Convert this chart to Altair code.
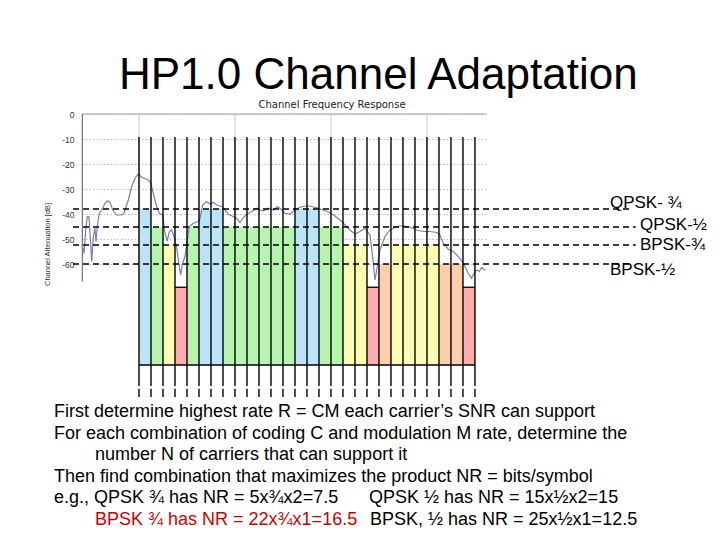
import altair as alt
import pandas as pd

# ---------------- data ----------------
# channel frequency response (x in carrier units, y in dB)
curve_u = [-4.75, -4.58, -4.44, -4.31, -4.17, -4.03, -3.94, -3.81, -3.67, -3.58, -3.48, -3.31, -3.11,
           -2.83, -2.64, -2.42, -2.19, -1.86, -1.44, -1.25, -0.89, -0.61, -0.33, -0.06, 0.22, 0.78,
           0.97, 1.19, 1.47, 1.69, 1.97, 2.17, 2.36, 2.53, 2.72, 2.92, 3.14, 3.28, 3.47, 3.64, 3.83,
           4.03, 4.19, 4.53, 4.94, 5.08, 5.31, 5.64, 5.92, 6.19, 6.47, 6.89, 7.17, 7.44, 7.86, 8.14,
           8.42, 8.64, 8.97, 9.39, 9.81, 10.08, 10.36, 10.78, 11.19, 11.53, 11.81, 12.17, 12.58, 13.0,
           13.42, 13.97, 14.39, 14.94, 15.36, 15.92, 16.33, 16.75, 17.17, 17.58, 18.0, 18.42, 18.83,
           19.25, 19.47, 19.67, 19.86, 20.08, 20.5, 20.92, 21.47, 22.03, 22.58, 23.14, 23.69, 24.25,
           24.81, 25.08, 25.36, 25.78, 26.19, 26.61, 27.03, 27.44, 27.72, 28.0, 28.19, 28.36, 28.56,
           28.75, 28.92]
curve_db = [-52.4, -55.7, -46.4, -41.0, -41.0, -51.7, -59.0, -49.0, -45.7, -51.0, -45.0, -39.7, -38.4,
            -35.7, -34.7, -35.3, -38.4, -40.4, -40.4, -39.7, -34.4, -29.0, -25.7, -24.0, -25.3, -26.4,
            -27.5, -31.7, -37.0, -39.7, -40.4, -47.7, -50.8, -47.0, -46.4, -49.0, -53.3, -58.4, -64.4,
            -59.7, -57.0, -50.4, -45.0, -43.7, -43.0, -42.0, -36.4, -35.0, -36.0, -35.3, -36.4, -37.0,
            -38.4, -40.1, -41.0, -41.7, -43.5, -41.7, -40.1, -39.0, -37.7, -38.4, -38.7, -37.7, -38.4,
            -37.0, -38.0, -39.7, -40.0, -38.4, -37.3, -36.7, -37.0, -37.7, -38.4, -39.5, -40.8, -42.4,
            -44.4, -46.4, -48.0, -47.0, -45.7, -48.4, -57.0, -66.4, -61.0, -54.4, -49.0, -46.4, -45.0,
            -44.7, -45.3, -46.4, -47.0, -47.0, -47.4, -48.4, -51.7, -54.1, -55.0, -57.0, -59.7, -63.7,
            -65.7, -63.0, -62.4, -63.0, -61.4, -62.2, -62.4]

# highest rate supported by each of the 28 carriers
carrier_rate = ["QPSK-¾", "QPSK-½", "BPSK-¾", "none", "QPSK-½", "QPSK-¾", "QPSK-¾",
                "QPSK-½", "QPSK-½", "QPSK-½", "QPSK-½", "QPSK-½", "QPSK-½", "QPSK-¾",
                "QPSK-¾", "QPSK-½", "QPSK-½", "BPSK-¾", "BPSK-¾", "none", "BPSK-½",
                "BPSK-¾", "BPSK-¾", "BPSK-¾", "BPSK-¾", "BPSK-½", "BPSK-½", "none"]
rates = ["QPSK-¾", "QPSK-½", "BPSK-¾", "BPSK-½", "none"]
rate_level_db = [-38.0, -45.2, -52.4, -60.0, -69.3]
rate_colors = ["#bce4f8", "#b6f5ae", "#fdfdb4", "#fdcfac", "#fdabab"]

threshold_labels = ["QPSK- ¾", "QPSK-½", "BPSK-¾", "BPSK-½"]
threshold_db = [-38.0, -45.2, -52.4, -60.0]

y_ticks = [0, -10, -20, -30, -40, -50, -60]
grid_u = [0, 8, 16, 24]

title_text = "HP1.0 Channel Adaptation"
inset_title = "Channel Frequency Response"
body_lines = [
    "First determine highest rate R = CM each carrier’s SNR can support",
    "For each combination of coding C and modulation M rate, determine the",
    "number N of carriers that can support it",
    "Then find combination that maximizes the product NR = bits/symbol",
    "e.g., QPSK ¾ has NR = 5x¾x2=7.5",
    "QPSK ½ has NR = 15x½x2=15",
    "BPSK ¾ has NR = 22x¾x1=16.5",
    "BPSK, ½ has NR = 25x½x1=12.5",
]

# ---------------- tables ----------------
level = dict(zip(rates, rate_level_db))
n = len(carrier_rate)
bars = pd.DataFrame({
    "start": [i for i in range(n)],
    "end": [i + 1 for i in range(n)],
    "rate": carrier_rate,
    "top": [level[r] for r in carrier_rate],
    "floor": [-100.4] * n,
})
curve = pd.DataFrame({"u": curve_u, "db": curve_db})
edges = list(range(n + 1))
vlines = pd.DataFrame({
    "u": edges + edges,
    "y1": [-9.2] * len(edges) + [-109.9] * len(edges),
    "y2": [-108.8] * len(edges) + [-113.2] * len(edges),
})
thr = pd.DataFrame({
    "db": threshold_db,
    "x1": [-5.5] * 4,
    "x2": [41.1, 41.4, 41.4, 41.1],
})
thr_lab = pd.DataFrame({
    "text": threshold_labels,
    "u": [39.25, 41.75, 41.75, 39.25],
    "db": [-37.4, -46.4, -54.4, -64.4],
})

yscale = alt.Scale(domain=[-114, 0], nice=False, zero=False)
xscale = alt.Scale(domain=[-4.75, 28.92], nice=False, zero=False)
yaxis = alt.Axis(values=y_ticks, grid=True, gridDash=[1.5, 2], gridColor="#bdbdbd",
                 gridWidth=1, domain=False, ticks=False, labelFont="Liberation Sans",
                 labelFontSize=8.5, labelColor="#333", labelPadding=8, labelFlush=False,
                 labelOverlap=False, labelExpr="toString(datum.value)",
                 title="Channel Attenuation [dB]",
                 titleFont="Liberation Sans", titleFontSize=7.5,
                 titleFontWeight="normal", titleColor="#333", titleAngle=-90,
                 titleX=-35, titleY=130, titleAlign="center", titleBaseline="middle")


def Y(f):
    return alt.Y(f"{f}:Q", scale=yscale, axis=yaxis)


def X(f):
    return alt.X(f"{f}:Q", scale=xscale, axis=None)


# frame pieces of the inset plot
gridv = alt.Chart(pd.DataFrame({"u": grid_u, "y0": [0] * 4, "y1": [-67] * 4})).mark_rule(
    color="#c8c8c8", strokeWidth=1).encode(x=X("u"), y=Y("y0"), y2="y1:Q")
top_line = alt.Chart(pd.DataFrame({"a": [-4.75], "b": [28.92], "y": [0]})).mark_rule(
    color="#a0a0a0", strokeWidth=1).encode(x=X("a"), x2="b:Q", y=Y("y"))
left_line = alt.Chart(pd.DataFrame({"u": [-4.72], "y0": [0], "y1": [-67]})).mark_rule(
    color="#7a7a7a", strokeWidth=1.3).encode(x=X("u"), y=Y("y0"), y2="y1:Q")

bar_layer = alt.Chart(bars).mark_bar(opacity=1).encode(
    x=X("start"), x2="end:Q", y=Y("top"), y2="floor:Q",
    color=alt.Color("rate:N", scale=alt.Scale(domain=rates, range=rate_colors), legend=None))
pink_top = alt.Chart(bars).transform_filter("datum.rate == 'none'").mark_rule(
    color="black", strokeWidth=1.3).encode(x=X("start"), x2="end:Q", y=Y("top"))
floor_line = alt.Chart(pd.DataFrame({"a": [0], "b": [n], "y": [-100.4]})).mark_rule(
    color="black", strokeWidth=1.3).encode(x=X("a"), x2="b:Q", y=Y("y"))

curve_layer = alt.Chart(curve).mark_line(color="#7c7cb2", strokeWidth=1.2).encode(
    x=X("u"), y=Y("db"))

dashed = alt.Chart(thr).mark_rule(color="black", strokeWidth=1.6, strokeDash=[6, 4]).encode(
    x=X("x1"), x2="x2:Q", y=Y("db"))

vline_layer = alt.Chart(vlines).mark_rule(color="black", strokeWidth=1.4).encode(
    x=X("u"), y=Y("y1"), y2="y2:Q")

labels = alt.Chart(thr_lab).mark_text(font="Liberation Sans", fontSize=17, align="left",
                                      baseline="alphabetic", color="black").encode(
    x=X("u"), y=Y("db"), text="text:N")

# slide texts (pixel offsets relative to the inset plot origin)
dummy = pd.DataFrame({"k": [0]})


def txt(s, x, y, size=18, color="black", font="Liberation Sans", align="left"):
    return alt.Chart(dummy).mark_text(font=font, fontSize=size, align=align,
                                      baseline="alphabetic", color=color).encode(
        x=alt.value(x), y=alt.value(y), text=alt.value(s))


texts = [
    txt(title_text, 37, -25, size=44),
    txt(inset_title, 250, -6, size=10, color="#222", font="DejaVu Sans", align="center"),
    txt(body_lines[0], -28, 303),
    txt(body_lines[1], -28, 324.6),
    txt(body_lines[2], 13, 346.2),
    txt(body_lines[3], -28, 367.8),
    txt(body_lines[4], -28, 389.4),
    txt(body_lines[5], 287, 389.4),
    txt(body_lines[6], 13, 411, color="#d00000"),
    txt(body_lines[7], 288, 411),
]

chart = alt.layer(gridv, top_line, left_line, bar_layer, pink_top, floor_line, curve_layer,
                  dashed, vline_layer, labels, *texts).properties(
    width=404, height=285,
    padding={"left": 74, "top": 106, "right": 226, "bottom": 133},
    autosize=alt.AutoSizeParams(type="none"),
    background="white",
).configure_view(strokeWidth=0)

chart.save("out.html", embed_options={"renderer": "svg", "actions": False})
